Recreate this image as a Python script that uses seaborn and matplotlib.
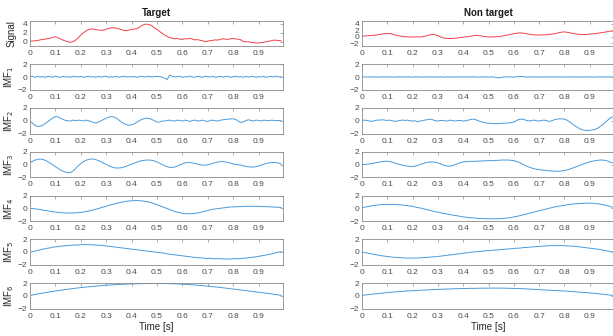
import matplotlib
matplotlib.use("Agg")
import matplotlib.pyplot as plt
import numpy as np
import pandas as pd
import seaborn as sns

# ── Data (one value every 10 ms) ─────────────────────────────────────
T = [round(i * 0.01, 2) for i in range(100)]

target_signal = [
    0.15, 0.2, 0.25, 0.3, 0.45, 0.55, 0.6, 0.75, 0.8, 1.0,
    1.15, 0.9, 0.65, 0.4, 0.2, 0.0, -0.1, 0.1, 0.4, 0.9,
    1.5, 2.0, 2.4, 2.7, 2.85, 2.8, 2.7, 2.6, 2.55, 2.6,
    2.75, 2.95, 3.1, 3.1, 3.0, 2.85, 2.7, 2.5, 2.45, 2.6,
    2.75, 2.8, 2.9, 3.2, 3.6, 3.85, 3.9, 3.8, 3.5, 3.1,
    2.7, 2.3, 1.9, 1.5, 1.2, 0.95, 0.8, 0.7, 0.75, 0.6,
    0.55, 0.7, 0.65, 0.8, 0.6, 0.45, 0.5, 0.35, 0.25, 0.05,
    0.15, 0.3, 0.35, 0.45, 0.4, 0.55, 0.7, 0.6, 0.55, 0.7,
    0.75, 0.65, 0.6, 0.45, 0.1, 0.0, 0.05, -0.1, -0.15, -0.2,
    -0.25, -0.15, -0.1, 0.05, 0.15, 0.25, 0.4, 0.35, 0.3, 0.2,
]
nontarget_signal = [
    0.2, 0.25, 0.35, 0.4, 0.45, 0.5, 0.6, 0.75, 0.9, 1.0,
    1.05, 1.0, 0.85, 0.6, 0.4, 0.25, 0.15, 0.05, 0.0, -0.05,
    -0.05, 0.0, 0.0, -0.05, 0.05, 0.2, 0.45, 0.65, 0.75, 0.6,
    0.35, 0.0, -0.3, -0.45, -0.5, -0.5, -0.45, -0.4, -0.3, -0.2,
    -0.1, 0.0, 0.05, 0.2, 0.35, 0.45, 0.4, 0.3, 0.15, 0.05,
    -0.05, -0.05, 0.0, 0.05, 0.1, 0.2, 0.35, 0.5, 0.65, 0.8,
    0.95, 1.1, 1.2, 1.2, 1.1, 0.95, 0.8, 0.7, 0.6, 0.55,
    0.6, 0.6, 0.6, 0.65, 0.75, 0.85, 0.95, 1.1, 1.3, 1.45,
    1.5, 1.4, 1.25, 1.1, 0.95, 0.85, 0.75, 0.7, 0.7, 0.75,
    0.85, 0.95, 1.0, 1.1, 1.2, 1.3, 1.45, 1.6, 1.75, 1.7,
]

target_imf1 = [
    0.05, 0.1, -0.05, 0.1, 0.0, 0.05, -0.05, 0.1, 0.05, -0.05,
    0.15, 0.0, -0.05, 0.1, 0.0, 0.05, -0.05, 0.1, 0.05, 0.0,
    0.1, -0.05, 0.05, 0.1, 0.0, 0.05, -0.05, 0.1, 0.0, 0.05,
    0.1, -0.05, 0.05, 0.0, 0.1, -0.05, 0.05, 0.1, 0.0, 0.05,
    0.0, 0.1, -0.05, 0.05, 0.1, 0.0, 0.05, 0.1, 0.0, 0.05,
    0.1, 0.05, 0.0, -0.2, -0.4, 0.3, 0.1, 0.0, 0.05, 0.1,
    -0.05, 0.05, 0.0, 0.15, 0.0, -0.05, 0.1, 0.05, -0.05, 0.1,
    0.05, 0.0, 0.1, -0.05, 0.05, 0.1, 0.0, 0.05, 0.1, -0.05,
    0.05, 0.1, 0.0, 0.05, -0.05, 0.1, 0.0, 0.05, 0.1, -0.05,
    0.05, 0.0, 0.1, -0.05, 0.05, 0.1, 0.0, 0.15, 0.0, 0.05,
]
nontarget_imf1 = [
    0.0, 0.03, -0.02, 0.03, 0.0, 0.02, -0.03, 0.02, 0.0, 0.03,
    -0.02, 0.02, 0.0, -0.03, 0.03, 0.0, 0.02, -0.02, 0.03, 0.0,
    -0.02, 0.03, 0.0, 0.02, -0.03, 0.02, 0.0, 0.03, -0.02, 0.02,
    0.0, 0.03, -0.02, 0.0, 0.02, -0.03, 0.02, 0.0, 0.03, -0.02,
    0.02, 0.0, 0.03, -0.02, 0.02, 0.0, -0.03, 0.02, 0.0, 0.03,
    -0.02, 0.02, 0.0, -0.06, -0.12, -0.08, 0.02, 0.03, 0.0, 0.02,
    -0.02, 0.03, 0.05, 0.08, 0.04, 0.0, -0.02, 0.03, 0.0, 0.02,
    -0.03, 0.02, 0.0, 0.03, -0.02, 0.02, 0.0, 0.03, -0.02, 0.0,
    0.02, -0.03, 0.02, 0.0, 0.03, -0.02, 0.02, 0.0, 0.03, -0.02,
    0.02, 0.0, -0.03, 0.02, 0.0, 0.03, -0.02, 0.02, 0.0, 0.02,
]

target_imf2 = [
    0.0, -0.4, -0.75, -0.9, -0.85, -0.7, -0.45, -0.15, 0.15, 0.45,
    0.65, 0.6, 0.4, 0.2, 0.05, 0.0, -0.05, 0.1, 0.0, 0.1,
    0.05, -0.05, 0.1, 0.0, -0.1, -0.3, -0.35, -0.2, 0.0, 0.2,
    0.4, 0.55, 0.65, 0.6, 0.4, 0.1, -0.2, -0.45, -0.6, -0.7,
    -0.65, -0.5, -0.25, 0.0, 0.2, 0.35, 0.4, 0.35, 0.2, 0.0,
    -0.2, -0.2, -0.05, -0.05, 0.05, 0.1, 0.0, -0.05, 0.1, 0.05,
    -0.05, 0.1, 0.0, -0.1, 0.05, 0.1, -0.05, 0.0, 0.1, -0.05,
    -0.1, 0.05, 0.1, 0.0, -0.05, 0.1, 0.15, 0.2, 0.25, 0.3,
    0.3, 0.2, -0.05, -0.25, -0.2, 0.05, 0.15, 0.05, -0.05, 0.1,
    0.05, -0.05, 0.1, 0.05, 0.0, 0.1, 0.05, 0.0, 0.05, 0.0,
]
nontarget_imf2 = [
    0.05, 0.1, 0.05, -0.05, -0.1, 0.0, 0.1, 0.1, 0.15, 0.1,
    0.05, 0.1, 0.0, -0.1, -0.05, 0.05, 0.1, 0.05, 0.1, 0.0,
    -0.05, 0.0, -0.15, -0.05, 0.05, 0.1, 0.2, 0.25, 0.15, 0.0,
    -0.05, 0.05, 0.05, -0.05, 0.0, 0.1, 0.0, -0.05, 0.05, 0.05,
    -0.05, 0.0, 0.1, 0.2, 0.25, 0.15, 0.0, -0.15, -0.25, -0.35,
    -0.4, -0.4, -0.45, -0.45, -0.45, -0.4, -0.4, -0.35, -0.35, -0.3,
    -0.2, 0.0, 0.2, 0.25, 0.2, 0.05, -0.05, 0.05, 0.1, 0.0,
    -0.05, 0.05, 0.1, 0.0, -0.1, 0.0, 0.15, 0.25, 0.3, 0.3,
    0.25, 0.1, -0.15, -0.45, -0.75, -1.0, -1.25, -1.4, -1.5, -1.55,
    -1.5, -1.45, -1.35, -1.2, -0.95, -0.65, -0.3, 0.05, 0.4, 0.6,
]

target_imf3 = [
    0.3, 0.5, 0.7, 0.8, 0.85, 0.8, 0.65, 0.45, 0.2, -0.05,
    -0.35, -0.6, -0.85, -1.05, -1.2, -1.3, -1.25, -1.0, -0.6, -0.2,
    0.15, 0.45, 0.65, 0.8, 0.85, 0.85, 0.75, 0.6, 0.4, 0.2,
    0.0, -0.2, -0.35, -0.5, -0.55, -0.55, -0.5, -0.4, -0.25, -0.1,
    0.05, 0.2, 0.35, 0.5, 0.6, 0.65, 0.7, 0.7, 0.65, 0.55,
    0.4, 0.2, 0.0, -0.2, -0.35, -0.45, -0.45, -0.4, -0.25, -0.05,
    0.1, 0.25, 0.3, 0.3, 0.25, 0.15, 0.05, -0.05, -0.1, -0.1,
    -0.05, 0.05, 0.2, 0.3, 0.4, 0.45, 0.45, 0.4, 0.3, 0.2,
    0.1, 0.0, -0.05, -0.1, -0.2, -0.3, -0.35, -0.4, -0.4, -0.35,
    -0.25, -0.1, 0.05, 0.15, 0.25, 0.3, 0.3, 0.3, 0.2, 0.05,
]
nontarget_imf3 = [
    0.0, 0.0, 0.05, 0.1, 0.15, 0.25, 0.3, 0.4, 0.45, 0.5,
    0.5, 0.45, 0.35, 0.25, 0.1, 0.0, -0.1, -0.2, -0.25, -0.3,
    -0.3, -0.25, -0.15, 0.0, 0.15, 0.25, 0.35, 0.4, 0.4, 0.35,
    0.25, 0.1, -0.05, -0.2, -0.25, -0.25, -0.15, 0.0, 0.15, 0.3,
    0.4, 0.45, 0.45, 0.5, 0.5, 0.5, 0.55, 0.55, 0.55, 0.6,
    0.6, 0.6, 0.6, 0.65, 0.65, 0.7, 0.7, 0.7, 0.7, 0.65,
    0.6, 0.5, 0.35, 0.15, -0.05, -0.25, -0.4, -0.55, -0.65, -0.75,
    -0.8, -0.85, -0.9, -0.95, -1.0, -1.0, -1.05, -1.05, -1.05, -1.0,
    -0.95, -0.85, -0.75, -0.6, -0.45, -0.3, -0.15, 0.0, 0.15, 0.3,
    0.4, 0.5, 0.6, 0.65, 0.7, 0.7, 0.65, 0.55, 0.4, 0.25,
]

target_imf4 = [
    0.0, -0.05, -0.1, -0.15, -0.2, -0.3, -0.35, -0.4, -0.5, -0.55,
    -0.6, -0.65, -0.7, -0.7, -0.75, -0.75, -0.75, -0.75, -0.7, -0.7,
    -0.65, -0.6, -0.5, -0.45, -0.35, -0.25, -0.15, -0.05, 0.1, 0.2,
    0.3, 0.45, 0.55, 0.65, 0.75, 0.85, 0.95, 1.0, 1.1, 1.15,
    1.15, 1.2, 1.2, 1.2, 1.15, 1.1, 1.05, 0.95, 0.85, 0.7,
    0.55, 0.4, 0.25, 0.1, -0.05, -0.2, -0.35, -0.5, -0.6, -0.7,
    -0.8, -0.85, -0.85, -0.85, -0.85, -0.8, -0.75, -0.65, -0.55, -0.45,
    -0.35, -0.25, -0.15, -0.1, -0.05, 0.0, 0.05, 0.1, 0.15, 0.2,
    0.2, 0.25, 0.25, 0.25, 0.3, 0.3, 0.3, 0.3, 0.3, 0.3,
    0.3, 0.3, 0.25, 0.25, 0.25, 0.2, 0.2, 0.15, 0.15, 0.1,
]
nontarget_imf4 = [
    0.05, 0.15, 0.25, 0.3, 0.4, 0.45, 0.5, 0.55, 0.6, 0.6,
    0.6, 0.6, 0.6, 0.6, 0.55, 0.55, 0.5, 0.45, 0.4, 0.35,
    0.3, 0.2, 0.1, 0.05, -0.05, -0.15, -0.25, -0.35, -0.45, -0.55,
    -0.6, -0.7, -0.8, -0.85, -0.95, -1.0, -1.1, -1.15, -1.2, -1.3,
    -1.35, -1.4, -1.45, -1.5, -1.5, -1.55, -1.6, -1.6, -1.65, -1.65,
    -1.65, -1.65, -1.65, -1.65, -1.65, -1.6, -1.6, -1.55, -1.5, -1.45,
    -1.35, -1.3, -1.2, -1.1, -1.0, -0.9, -0.8, -0.7, -0.6, -0.5,
    -0.4, -0.3, -0.2, -0.1, 0.0, 0.1, 0.2, 0.25, 0.35, 0.4,
    0.45, 0.55, 0.6, 0.65, 0.7, 0.7, 0.75, 0.75, 0.8, 0.8,
    0.8, 0.8, 0.75, 0.7, 0.65, 0.6, 0.5, 0.4, 0.3, 0.15,
]

target_imf5 = [
    -0.05, 0.05, 0.15, 0.25, 0.35, 0.45, 0.5, 0.6, 0.65, 0.75,
    0.8, 0.85, 0.9, 0.95, 1.0, 1.0, 1.05, 1.1, 1.1, 1.1,
    1.15, 1.15, 1.15, 1.15, 1.15, 1.1, 1.1, 1.05, 1.05, 1.0,
    0.95, 0.9, 0.85, 0.8, 0.75, 0.7, 0.65, 0.6, 0.55, 0.5,
    0.45, 0.4, 0.35, 0.3, 0.25, 0.2, 0.15, 0.1, 0.05, 0.0,
    -0.05, -0.1, -0.15, -0.2, -0.3, -0.35, -0.4, -0.45, -0.5, -0.55,
    -0.6, -0.65, -0.7, -0.75, -0.8, -0.85, -0.9, -0.9, -0.95, -1.0,
    -1.0, -1.0, -1.05, -1.05, -1.05, -1.05, -1.1, -1.1, -1.1, -1.1,
    -1.05, -1.05, -1.05, -1.0, -1.0, -0.95, -0.9, -0.85, -0.8, -0.75,
    -0.7, -0.6, -0.55, -0.45, -0.4, -0.3, -0.2, -0.1, 0.0, 0.05,
]
nontarget_imf5 = [
    0.0, -0.1, -0.15, -0.25, -0.3, -0.4, -0.45, -0.55, -0.6, -0.65,
    -0.7, -0.75, -0.8, -0.85, -0.85, -0.9, -0.9, -0.95, -0.95, -0.95,
    -0.95, -0.95, -0.95, -0.9, -0.9, -0.85, -0.85, -0.8, -0.75, -0.75,
    -0.7, -0.65, -0.6, -0.55, -0.5, -0.45, -0.4, -0.35, -0.3, -0.25,
    -0.2, -0.15, -0.1, -0.05, 0.0, 0.05, 0.05, 0.1, 0.15, 0.2,
    0.2, 0.25, 0.3, 0.3, 0.35, 0.4, 0.4, 0.45, 0.5, 0.5,
    0.55, 0.6, 0.6, 0.65, 0.7, 0.7, 0.75, 0.8, 0.8, 0.85,
    0.9, 0.9, 0.95, 0.95, 1.0, 1.0, 1.0, 1.0, 1.0, 1.0,
    1.0, 0.95, 0.95, 0.9, 0.9, 0.85, 0.8, 0.75, 0.7, 0.65,
    0.6, 0.55, 0.5, 0.45, 0.4, 0.3, 0.25, 0.15, 0.1, 0.0,
]

target_imf6 = [
    0.05, 0.12, 0.2, 0.27, 0.35, 0.42, 0.48, 0.55, 0.62, 0.68,
    0.75, 0.8, 0.86, 0.92, 0.97, 1.02, 1.08, 1.13, 1.18, 1.23,
    1.28, 1.32, 1.36, 1.4, 1.44, 1.48, 1.52, 1.55, 1.58, 1.62,
    1.65, 1.68, 1.7, 1.73, 1.75, 1.77, 1.79, 1.81, 1.83, 1.84,
    1.86, 1.87, 1.88, 1.89, 1.9, 1.91, 1.92, 1.92, 1.93, 1.93,
    1.93, 1.93, 1.92, 1.92, 1.91, 1.9, 1.89, 1.88, 1.86, 1.84,
    1.82, 1.8, 1.77, 1.74, 1.71, 1.68, 1.65, 1.61, 1.58, 1.54,
    1.5, 1.46, 1.42, 1.38, 1.34, 1.3, 1.25, 1.2, 1.15, 1.1,
    1.05, 1.0, 0.95, 0.9, 0.85, 0.8, 0.75, 0.7, 0.65, 0.6,
    0.55, 0.5, 0.45, 0.4, 0.35, 0.3, 0.24, 0.18, 0.12, 0.05,
]
nontarget_imf6 = [
    0.05, 0.1, 0.15, 0.2, 0.25, 0.28, 0.32, 0.37, 0.42, 0.46,
    0.5, 0.53, 0.57, 0.6, 0.63, 0.66, 0.69, 0.72, 0.75, 0.77,
    0.8, 0.82, 0.84, 0.86, 0.88, 0.9, 0.92, 0.94, 0.96, 0.98,
    1.0, 1.01, 1.03, 1.04, 1.06, 1.07, 1.08, 1.1, 1.11, 1.12,
    1.13, 1.14, 1.15, 1.16, 1.16, 1.17, 1.18, 1.18, 1.19, 1.19,
    1.2, 1.2, 1.2, 1.2, 1.2, 1.19, 1.19, 1.18, 1.17, 1.16,
    1.15, 1.14, 1.12, 1.11, 1.09, 1.07, 1.05, 1.03, 1.0, 0.98,
    0.95, 0.93, 0.91, 0.89, 0.87, 0.85, 0.83, 0.81, 0.79, 0.77,
    0.75, 0.72, 0.69, 0.66, 0.63, 0.6, 0.57, 0.54, 0.51, 0.48,
    0.45, 0.41, 0.37, 0.33, 0.29, 0.25, 0.2, 0.15, 0.1, 0.05,
]

COLUMNS = ["Target", "Non target"]
ROW_LABELS = ["Signal", "IMF$_1$", "IMF$_2$", "IMF$_3$", "IMF$_4$", "IMF$_5$", "IMF$_6$"]
SERIES = {
    "Target": [target_signal, target_imf1, target_imf2, target_imf3,
               target_imf4, target_imf5, target_imf6],
    "Non target": [nontarget_signal, nontarget_imf1, nontarget_imf2, nontarget_imf3,
                   nontarget_imf4, nontarget_imf5, nontarget_imf6],
}
SIGNAL_YLIM = {"Target": (-0.9, 4.7), "Non target": (-2.8, 5.0)}
SIGNAL_YTICKS = {"Target": [0, 2, 4], "Non target": [-2, 0, 2, 4]}
XTICKS = [0, 0.1, 0.2, 0.3, 0.4, 0.5, 0.6, 0.7, 0.8, 0.9]

# ── Style (MATLAB-like subplot look) ─────────────────────────────────
sns.set_theme(style="white")
plt.rcParams.update({
    "font.family": ["Liberation Sans", "DejaVu Sans"],
    "axes.edgecolor": "#8a8a8a",
    "axes.linewidth": 0.6,
    "xtick.color": "#8a8a8a",
    "ytick.color": "#8a8a8a",
    "xtick.labelcolor": "#4a4a4a",
    "ytick.labelcolor": "#4a4a4a",
    "xtick.direction": "in",
    "ytick.direction": "in",
    "xtick.major.size": 2,
    "ytick.major.size": 2,
    "xtick.major.width": 0.5,
    "ytick.major.width": 0.5,
    "xtick.major.pad": 3,
    "ytick.major.pad": 2,
})

W, H = 613, 336
fig = plt.figure(figsize=(W / 100, H / 100), dpi=100)

col_left = {"Target": 30, "Non target": 362}
col_width = {"Target": 253, "Non target": 252}
row_top0, row_step, row_h = 20.5, 43.75, 25.5

for col in COLUMNS:
    for r, vals in enumerate(SERIES[col]):
        top = row_top0 + r * row_step
        ax = fig.add_axes([col_left[col] / W, 1 - (top + row_h) / H,
                           col_width[col] / W, row_h / H])
        df = pd.DataFrame({"t": T, "v": vals})
        color = "#f4404a" if r == 0 else "#4a9bdc"
        sns.lineplot(data=df, x="t", y="v", ax=ax, color=color, linewidth=0.7)
        ax.set_xlim(0, 0.996)
        if r == 0:
            ax.set_ylim(*SIGNAL_YLIM[col])
            ax.set_yticks(SIGNAL_YTICKS[col])
        else:
            ax.set_ylim(-2, 2)
            ax.set_yticks([-2, 0, 2])
        ax.set_xticks(XTICKS)
        ax.set_xticklabels([f"{v:g}" for v in XTICKS])
        ax.tick_params(labelsize=6, top=True, right=True)
        ax.set_xlabel("")
        if col == "Target":
            ax.set_ylabel(ROW_LABELS[r], fontsize=7, color="#262626")
            ax.yaxis.set_label_coords(-0.055, 0.5)
        else:
            ax.set_ylabel("")
        if r == 0:
            ax.set_title(col, fontsize=7, fontweight="bold", pad=3, color="#1a1a1a")
        if r == len(ROW_LABELS) - 1:
            ax.set_xlabel("Time [s]", fontsize=7, color="#262626", labelpad=2)
        for s in ax.spines.values():
            s.set_visible(True)

fig.savefig("out.png", dpi=100)
